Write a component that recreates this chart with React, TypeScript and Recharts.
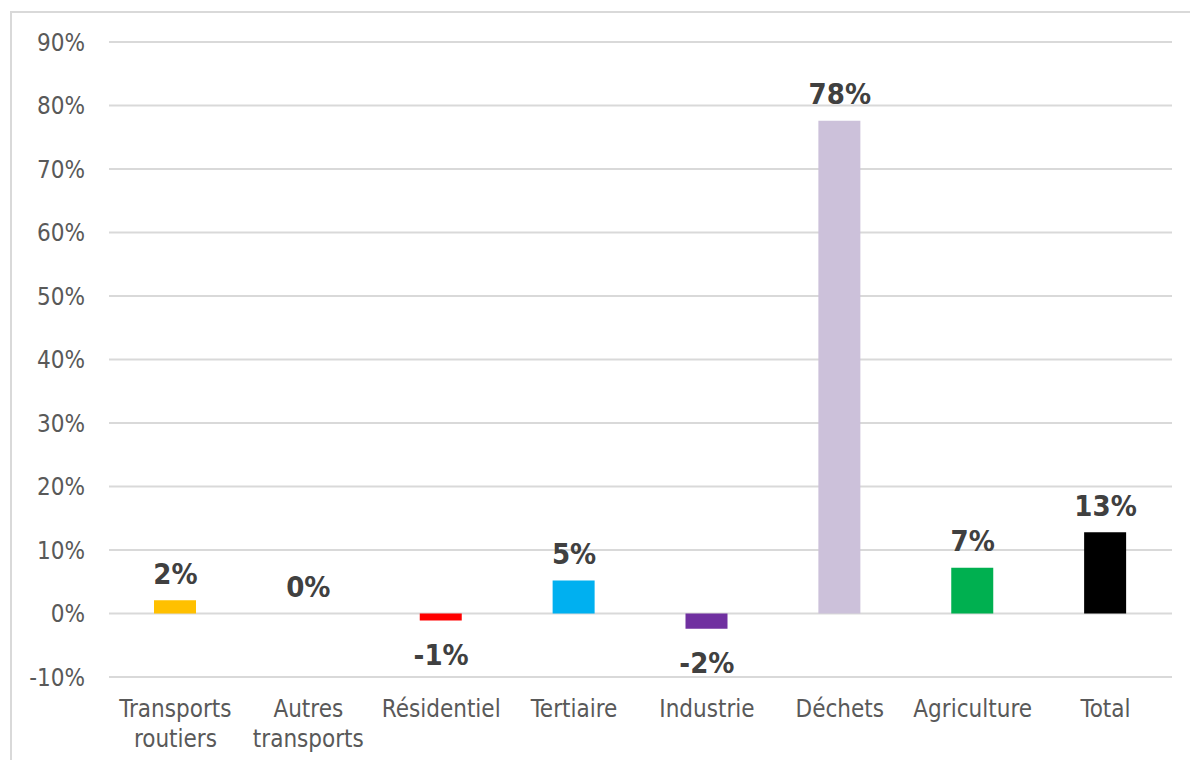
import React from "react";
import { ComposedChart, Bar, Line, XAxis, YAxis, CartesianGrid, Cell, LabelList } from "recharts";

const categories = [
  "Transports routiers",
  "Autres transports",
  "Résidentiel",
  "Tertiaire",
  "Industrie",
  "Déchets",
  "Agriculture",
  "Total",
];
const values = [2.1, 0.0, -1.1, 5.2, -2.4, 77.6, 7.2, 12.8];
const barColors = ["#FFC000", "#A5A5A5", "#FF0000", "#00B0F0", "#7030A0", "#CCC1DA", "#00B050", "#000000"];
const yTicks = [-10, 0, 10, 20, 30, 40, 50, 60, 70, 80, 90];

const FONT = "'DejaVu Sans Condensed', 'DejaVu Sans', sans-serif";

const chartData = categories.map((name, i) => ({ name, value: values[i] }));

function YTick(props: any) {
  const { y, payload } = props;
  return (
    <text x={85} y={y} dy="0.36em" textAnchor="end" fill="#595959" fontSize={24} fontFamily={FONT}>
      {payload.value}%
    </text>
  );
}

function XTick(props: any) {
  const { x, y, payload } = props;
  const lines = String(payload.value).split(" ");
  return (
    <text x={x} y={y} textAnchor="middle" fill="#595959" fontSize={24} fontFamily={FONT}>
      {lines.map((l, i) => (
        <tspan key={i} x={x} dy={i === 0 ? 32 : 30}>
          {l}
        </tspan>
      ))}
    </text>
  );
}

// labels hang off an invisible line so that the 0% value also gets one
function ValueLabel(props: any) {
  const { x, y, value } = props;
  const ty = value < 0 ? y + 34 : y - 27;
  return (
    <text x={x} y={ty} dy="0.36em" textAnchor="middle" fill="#404040" fontSize={29} fontWeight="bold" fontFamily={FONT}>
      {Math.round(value)}%
    </text>
  );
}

export default function App() {
  return (
    <div style={{ position: "absolute", left: 0, top: 0, width: 1190, height: 760, background: "#fff", overflow: "hidden" }}>
      <div
        style={{
          position: "absolute",
          left: 10,
          top: 11,
          width: 1300,
          height: 900,
          borderLeft: "2px solid #d9d9d9",
          borderTop: "2px solid #d9d9d9",
        }}
      />
      <div style={{ position: "absolute", left: 0, top: 0 }}>
        <ComposedChart width={1190} height={760} data={chartData} margin={{ top: 42, right: 18, left: 0, bottom: 0 }}>
          <CartesianGrid vertical={false} stroke="#d9d9d9" strokeWidth={2} />
          <XAxis dataKey="name" axisLine={false} tickLine={false} height={83} interval={0} tick={<XTick />} />
          <YAxis
            width={109}
            domain={[-10, 90]}
            ticks={yTicks}
            axisLine={false}
            tickLine={false}
            interval={0}
            tick={<YTick />}
          />
          <Bar dataKey="value" barSize={42} isAnimationActive={false}>
            {chartData.map((d, i) => (
              <Cell key={d.name} fill={barColors[i]} />
            ))}
          </Bar>
          <Line dataKey="value" stroke="none" dot={false} activeDot={false} isAnimationActive={false}>
            <LabelList dataKey="value" content={<ValueLabel />} />
          </Line>
        </ComposedChart>
      </div>
    </div>
  );
}
